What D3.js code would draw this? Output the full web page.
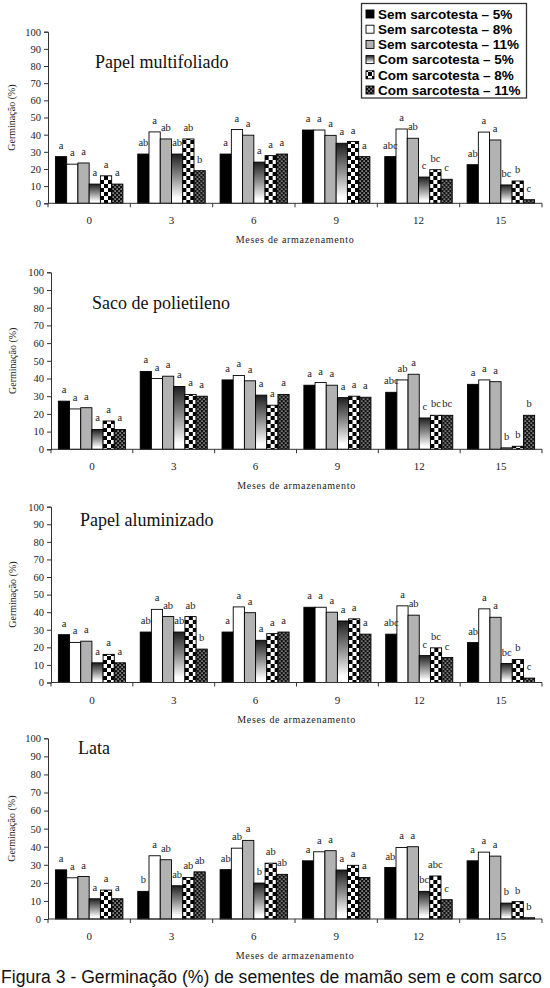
<!DOCTYPE html>
<html><head><meta charset="utf-8">
<script src="https://cdn.jsdelivr.net/npm/d3@7"></script>
<style>
body{margin:0;background:#fff;}
svg{display:block;}
</style></head>
<body>
<svg id="chart" width="550" height="988"></svg>
<script>
// ---------- DATA ----------
const months = ["0", "3", "6", "9", "12", "15"];
const seriesNames = ["Sem sarcotesta \u2013 5%", "Sem sarcotesta \u2013 8%", "Sem sarcotesta \u2013 11%",
                     "Com sarcotesta \u2013 5%", "Com sarcotesta \u2013 8%", "Com sarcotesta \u2013 11%"];
const yTicks = [0, 10, 20, 30, 40, 50, 60, 70, 80, 90, 100];
const panelTitles = ["Papel multifoliado", "Saco de polietileno", "Papel aluminizado", "Lata"];

// rows = months, columns = series
const multifoliadoValues = [
  [27.2, 22.8, 23.5, 11.2, 16.0, 11.2],
  [28.7, 41.6, 37.5, 28.7, 37.5, 19.0],
  [28.7, 43.0, 39.7, 24.0, 27.8, 28.7],
  [42.7, 42.7, 39.6, 35.0, 36.0, 27.2],
  [27.2, 43.3, 37.9, 15.3, 19.6, 14.0],
  [22.5, 41.5, 36.9, 10.7, 13.0, 2.1]
];
const multifoliadoLetters = [
  ["a", "a", "a", "a", "a", "a"],
  ["ab", "a", "ab", "ab", "ab", "b"],
  ["a", "a", "a", "a", "a", "a"],
  ["a", "a", "a", "a", "a", "a"],
  ["abc", "a", "ab", "c", "bc", "c"],
  ["ab", "a", "a", "bc", "b", "c"]
];
const polietilenoValues = [
  [27.2, 22.8, 23.5, 11.2, 16.0, 11.2],
  [44.0, 40.0, 41.3, 35.5, 31.0, 30.0],
  [39.2, 41.7, 38.7, 30.6, 24.9, 31.0],
  [36.2, 37.7, 36.2, 29.2, 30.0, 29.4],
  [32.2, 39.2, 42.4, 17.7, 19.2, 19.2],
  [36.7, 39.2, 38.2, 0.8, 1.7, 19.2]
];
const polietilenoLetters = [
  ["a", "a", "a", "a", "a", "a"],
  ["a", "a", "a", "a", "a", "a"],
  ["a", "a", "a", "a", "a", "a"],
  ["a", "a", "a", "a", "a", "a"],
  ["abc", "ab", "a", "c", "bc", "bc"],
  ["a", "a", "a", "b", "b", "b"]
];
const aluminizadoValues = [
  [27.2, 22.8, 23.5, 11.2, 16.0, 11.2],
  [28.7, 41.6, 37.5, 28.7, 37.5, 19.0],
  [28.7, 43.0, 39.7, 24.0, 27.8, 28.7],
  [42.8, 42.8, 40.0, 35.0, 36.2, 27.5],
  [27.5, 43.6, 38.3, 15.3, 19.7, 14.2],
  [22.7, 41.9, 37.1, 10.8, 13.1, 2.5]
];
const aluminizadoLetters = [
  ["a", "a", "a", "a", "a", "a"],
  ["ab", "a", "ab", "ab", "ab", "b"],
  ["a", "a", "a", "a", "a", "a"],
  ["a", "a", "a", "a", "a", "a"],
  ["abc", "a", "ab", "c", "bc", "c"],
  ["ab", "a", "a", "bc", "b", "c"]
];
const lataValues = [
  [27.2, 22.8, 23.5, 11.2, 16.0, 11.2],
  [15.3, 35.0, 32.8, 18.4, 23.0, 26.1],
  [27.3, 39.2, 43.5, 19.9, 30.9, 24.7],
  [32.2, 37.2, 37.8, 27.1, 29.7, 23.0],
  [28.5, 39.6, 40.0, 15.3, 23.8, 10.7],
  [32.2, 37.0, 34.8, 8.8, 9.6, 0.7]
];
const lataLetters = [
  ["a", "a", "a", "a", "a", "a"],
  ["b", "a", "ab", "ab", "ab", "ab"],
  ["ab", "ab", "a", "b", "ab", "ab"],
  ["a", "a", "a", "a", "a", "a"],
  ["ab", "a", "a", "bc", "abc", "c"],
  ["a", "a", "a", "b", "b", "b"]
];
const xTitle = "Meses de armazenamento";
const yTitle = "Germinação (%)";
const caption = "Figura 3 - Germinação (%) de sementes de mamão sem e com sarco";

// ---------- LAYOUT ----------
const layout = [
  {left: 48, right: 542, top: 31.7, bottom: 203.3, tx: 95, ty: 68, ylx: 11},
  {left: 51, right: 542, top: 272.3, bottom: 449.3, tx: 92, ty: 309, ylx: 12},
  {left: 51, right: 542, top: 506.7, bottom: 682.5, tx: 80, ty: 526, ylx: 12},
  {left: 48, right: 542, top: 738.3, bottom: 919, tx: 78, ty: 754, ylx: 11}
];
const panelData = [
  {values: multifoliadoValues, letters: multifoliadoLetters},
  {values: polietilenoValues, letters: polietilenoLetters},
  {values: aluminizadoValues, letters: aluminizadoLetters},
  {values: lataValues, letters: lataLetters}
];

const svg = d3.select("#chart");
const defs = svg.append("defs");

// gradient (Com 5%)
const grad = defs.append("linearGradient").attr("id", "gradC5")
  .attr("x1", 0).attr("y1", 0).attr("x2", 0).attr("y2", 1);
grad.append("stop").attr("offset", "0%").attr("stop-color", "#1e1e1e");
grad.append("stop").attr("offset", "45%").attr("stop-color", "#8a8a8a");
grad.append("stop").attr("offset", "90%").attr("stop-color", "#ffffff");
grad.append("stop").attr("offset", "100%").attr("stop-color", "#ffffff");

// checker (Com 8%)
const chk = defs.append("pattern").attr("id", "checker").attr("patternUnits", "userSpaceOnUse")
  .attr("width", 8).attr("height", 8);
chk.append("rect").attr("width", 8).attr("height", 8).attr("fill", "#fff");
chk.append("rect").attr("width", 4).attr("height", 4).attr("fill", "#000");
chk.append("rect").attr("x", 4).attr("y", 4).attr("width", 4).attr("height", 4).attr("fill", "#000");

// dots (Com 11%)
const dots = defs.append("pattern").attr("id", "dots").attr("patternUnits", "userSpaceOnUse")
  .attr("width", 4).attr("height", 4);
dots.append("rect").attr("width", 4).attr("height", 4).attr("fill", "#111");
dots.append("rect").attr("x", 0.5).attr("y", 0.5).attr("width", 1.2).attr("height", 1.2).attr("fill", "#fff");
dots.append("rect").attr("x", 2.5).attr("y", 2.5).attr("width", 1.2).attr("height", 1.2).attr("fill", "#fff");

const fills = ["#000", "#fff", "#b2b2b2", "url(#gradC5)", "url(#checker)", "url(#dots)"];
const color = d3.scaleOrdinal().domain(seriesNames).range(fills);

const serif = "'Liberation Serif','Times New Roman',serif";
const sans = "'Liberation Sans',Arial,sans-serif";

layout.forEach((L, pi) => {
  const P = panelData[pi];
  const g = svg.append("g");
  const y = d3.scaleLinear().domain([0, 100]).range([L.bottom, L.top]);
  const x0 = d3.scaleBand().domain(months).range([L.left, L.right]).padding(0);
  const x1 = d3.scaleBand().domain(seriesNames).range([0, x0.bandwidth()]).paddingInner(0).paddingOuter(0.66);

  // bars
  months.forEach((m, mi) => {
    const gg = g.append("g").attr("transform", `translate(${x0(m)},0)`);
    const rows = seriesNames.map((s, si) => ({s, v: P.values[mi][si], l: P.letters[mi][si]}));
    gg.selectAll("rect").data(rows)
      .join("rect")
      .attr("x", d => x1(d.s))
      .attr("y", d => y(d.v))
      .attr("width", x1.bandwidth())
      .attr("height", d => y(0) - y(d.v))
      .attr("fill", d => color(d.s))
      .attr("stroke", "#000").attr("stroke-width", 0.9);
    gg.selectAll("text").data(rows)
      .join("text")
      .attr("x", d => x1(d.s) + x1.bandwidth() / 2)
      .attr("y", d => y(d.v) - 8)
      .attr("text-anchor", "middle")
      .attr("font-family", serif).attr("font-size", 10.5).attr("fill", "#222")
      .text(d => d.l);
  });

  // y axis
  const ya = g.append("g").attr("transform", `translate(${L.left},0)`)
    .call(d3.axisLeft(y).tickValues(yTicks).tickSize(4).tickPadding(3));
  ya.selectAll("text").attr("font-family", serif).attr("font-size", 10.5).attr("fill", "#222");
  ya.selectAll("line,path").attr("stroke", "#333");

  // x axis
  g.append("line").attr("x1", L.left).attr("x2", L.right).attr("y1", y(0)).attr("y2", y(0))
    .attr("stroke", "#333");
  const bounds = months.map(m => x0(m)).concat([x0(months[months.length - 1]) + x0.bandwidth()]);
  g.selectAll("line.xt").data(bounds).join("line").attr("class", "xt")
    .attr("x1", d => d).attr("x2", d => d).attr("y1", y(0)).attr("y2", y(0) + 4)
    .attr("stroke", "#333");
  g.selectAll("text.xl").data(months).join("text").attr("class", "xl")
    .attr("x", d => x0(d) + x0.bandwidth() / 2).attr("y", y(0) + 21)
    .attr("text-anchor", "middle").attr("font-family", serif).attr("font-size", 11).attr("fill", "#222")
    .text(d => d);

  g.append("text").attr("x", (L.left + L.right) / 2).attr("y", y(0) + 40)
    .attr("text-anchor", "middle").attr("font-family", serif).attr("font-size", 10)
    .attr("letter-spacing", 0.7).attr("fill", "#222").text(xTitle);

  g.append("text").attr("transform", `translate(${L.ylx},${(L.top + L.bottom) / 2}) rotate(-90)`)
    .attr("dy", "0.35em").attr("text-anchor", "middle").attr("font-family", serif).attr("font-size", 10)
    .attr("fill", "#222").text(yTitle);

  g.append("text").attr("x", L.tx).attr("y", L.ty).attr("font-family", serif).attr("font-size", 18)
    .attr("fill", "#111").text(panelTitles[pi]);
});

// legend
const lg = svg.append("g");
lg.append("rect").attr("x", 361.5).attr("y", 3.5).attr("width", 165).attr("height", 94.5)
  .attr("fill", "#fff").attr("stroke", "#333").attr("stroke-width", 1.3);
seriesNames.forEach((s, i) => {
  const cy = 14 + i * 15.2;
  lg.append("rect").attr("x", 366).attr("y", cy - 4).attr("width", 8).attr("height", 8)
    .attr("fill", color(s)).attr("stroke", "#000").attr("stroke-width", 0.9);
  lg.append("text").attr("x", 378).attr("y", cy).attr("dy", "0.36em")
    .attr("font-family", sans).attr("font-weight", "bold").attr("font-size", 13.5).attr("fill", "#000")
    .text(s);
});

// caption
svg.append("text").attr("x", 1).attr("y", 983).attr("font-family", sans).attr("font-size", 17.6)
  .attr("fill", "#111").text(caption);
</script>
</body></html>
